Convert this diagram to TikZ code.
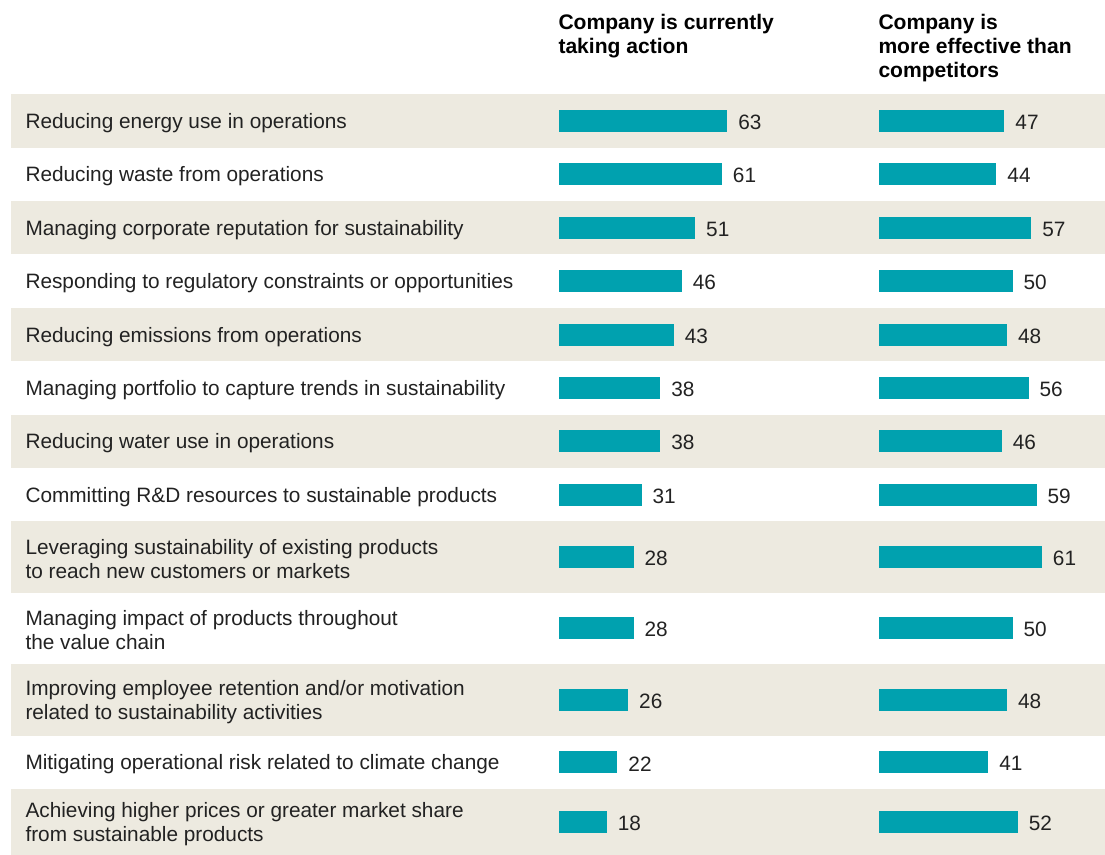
\documentclass[tikz,border=0pt]{standalone}
\usepackage{fontspec}
\setmainfont{Liberation Sans}
\usetikzlibrary{positioning}

\definecolor{bandfill}{HTML}{EDEAE0}
\definecolor{barfill}{HTML}{00A1AF}
\definecolor{inktext}{HTML}{222222}

\tikzset{every picture/.style={line width=0.75pt},
  rowlabel/.style={anchor=west, inner sep=0pt, align=left, yshift=-1.5pt, text=inktext, font=\fontsize{15.6}{18}\selectfont},
  colhead/.style={anchor=north west, inner sep=0pt, align=left, text=black, font=\fontsize{15.8}{18}\selectfont\bfseries},
  hbar/.style={anchor=west, inner sep=0pt, fill=barfill, minimum height=16.5pt},
  barval/.style={inner sep=0pt, yshift=-1pt, text=inktext, font=\fontsize{15.6}{18}\selectfont},
}

\begin{document}
\begin{tikzpicture}[x=0.75pt,y=0.75pt,yscale=-1,xscale=1]
    \useasboundingbox (0,0) rectangle (1105,855);

    % Column heads
    \node[colhead] (headA) at (558,14) {Company is currently\\taking action};
    \node[colhead] (headB) at (878,14) {Company is\\more effective than\\competitors};

    % Rows: band, label, two bars with values
    \foreach \i/\top/\bot/\fc/\lab/\a/\b in {
        1/94/147.7/bandfill/{Reducing energy use in operations}/63/47,
        2/147.7/201/white/{Reducing waste from operations}/61/44,
        3/201/254.5/bandfill/{Managing corporate reputation for sustainability}/51/57,
        4/254.5/308/white/{Responding to regulatory constraints or opportunities}/46/50,
        5/308/361.3/bandfill/{Reducing emissions from operations}/43/48,
        6/361.3/414.7/white/{Managing portfolio to capture trends in sustainability}/38/56,
        7/414.7/468/bandfill/{Reducing water use in operations}/38/46,
        8/468/521.3/white/{Committing R\&D resources to sustainable products}/31/59,
        9/521.3/592.5/bandfill/{Leveraging sustainability of existing products\\to reach new customers or markets}/28/61,
        10/592.5/663.8/white/{Managing impact of products throughout\\the value chain}/28/50,
        11/663.8/735.5/bandfill/{Improving employee retention and/or motivation\\related to sustainability activities}/26/48,
        12/735.5/789.3/white/{Mitigating operational risk related to climate change}/22/41,
        13/789.3/855/bandfill/{Achieving higher prices or greater market share\\from sustainable products}/18/52}{
        \fill[\fc] (11,\top) rectangle (1105,\bot);
        \node[rowlabel] (lab\i) at (25,{(\top+\bot)/2}) {\lab};
        \node[hbar, minimum width={\a*2.01pt}] (barA\i) at (558,{(\top+\bot)/2}) {};
        \node[barval, right=7.5pt of barA\i] (valA\i) {\a};
        \node[hbar, minimum width={\b*2.01pt}] (barB\i) at (878,{(\top+\bot)/2}) {};
        \node[barval, right=7.5pt of barB\i] (valB\i) {\b};
    }
\end{tikzpicture}
\end{document}
